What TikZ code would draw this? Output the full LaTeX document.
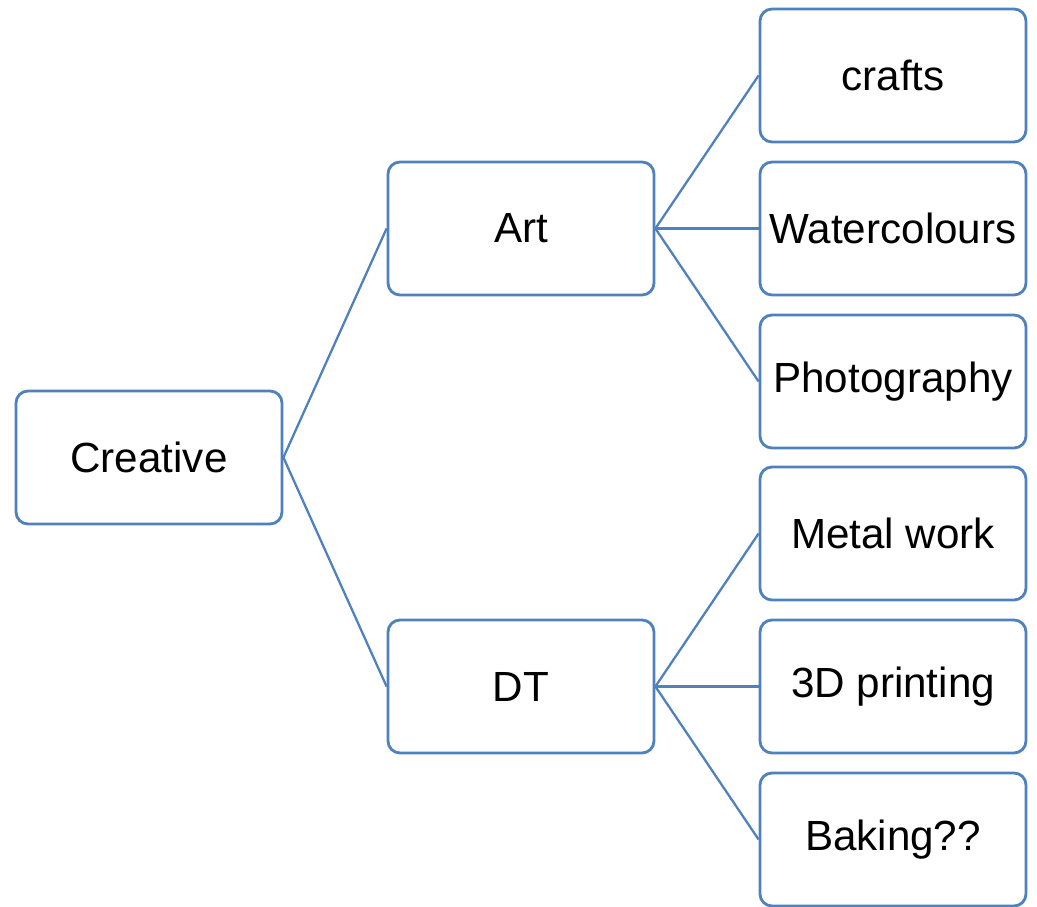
\documentclass[tikz,border=0pt]{standalone}
\usepackage{fontspec}
\setmainfont{Liberation Sans}
\usetikzlibrary{positioning,calc}
\definecolor{boxblue}{RGB}{79,129,189}
\tikzset{
    block/.style={rectangle, draw=boxblue, line width=1.6pt, fill=white, rounded corners=0.24cm, minimum width=5.32cm, minimum height=2.66cm, text centered, font=\fontsize{24}{28}\selectfont},
    link/.style={draw=boxblue, line width=1.3pt}
}

\begin{document}
\begin{tikzpicture}
    \useasboundingbox (0,0) rectangle (20.74,-18.14);

    % Root
    \node [block] (creative) at (2.98,-9.15) {Creative};

    % Main branches
    \node [block] (art) at ([shift={(7.44cm,4.58cm)}]creative) {Art};
    \node [block] (dt) at ([shift={(7.44cm,-4.58cm)}]creative) {DT};

    % Art leaves
    \node [block] (watercolours) at ([shift={(7.44cm,0cm)}]art) {Watercolours};
    \node [block] (crafts) at ([shift={(0cm,3.06cm)}]watercolours) {crafts};
    \node [block] (photography) at ([shift={(0cm,-3.06cm)}]watercolours) {Photography};

    % DT leaves
    \node [block] (printing) at ([shift={(7.44cm,0cm)}]dt) {3D printing};
    \node [block] (metal) at ([shift={(0cm,3.06cm)}]printing) {Metal work};
    \node [block] (baking) at ([shift={(0cm,-3.06cm)}]printing) {Baking??};

    % Connections
    \path [link] (creative.east) -- (art.west);
    \path [link] (creative.east) -- (dt.west);

    \path [link] (art.east) -- (crafts.west);
    \path [link] (art.east) -- (watercolours.west);
    \path [link] (art.east) -- (photography.west);

    \path [link] (dt.east) -- (metal.west);
    \path [link] (dt.east) -- (printing.west);
    \path [link] (dt.east) -- (baking.west);
\end{tikzpicture}
\end{document}
